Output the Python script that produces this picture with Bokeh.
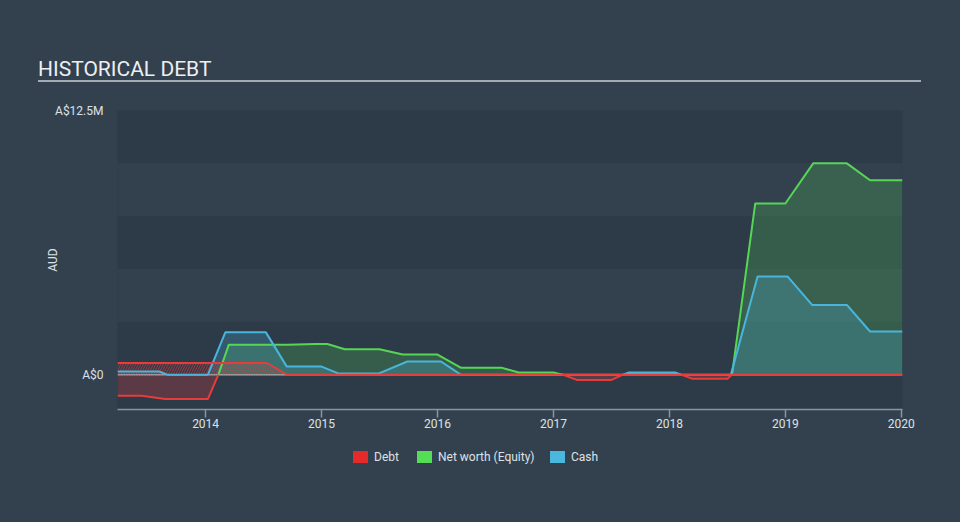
import numpy as np
from bokeh.plotting import figure
from bokeh.layouts import column
from bokeh.models import Range1d, FixedTicker, BoxAnnotation, Span, Div
from bokeh.embed import file_html
from bokeh.resources import INLINE

# ---- data (A$ millions, decimal years) ----
equity_years = [2013.24, 2013.45, 2013.65, 2014.02, 2014.11, 2014.2, 2014.7, 2014.95,
                2015.05, 2015.2, 2015.5, 2015.7, 2016.0, 2016.2, 2016.55, 2016.7,
                2017.0, 2017.08, 2017.2, 2017.5, 2017.6, 2017.65, 2018.05, 2018.1,
                2018.2, 2018.5, 2018.54, 2018.74, 2019.0, 2019.24, 2019.53, 2019.73, 2020.01]
equity_m = [-1.0, -1.0, -1.15, -1.15, 0.0, 1.42, 1.42, 1.45,
            1.45, 1.2, 1.2, 0.95, 0.95, 0.33, 0.33, 0.1,
            0.1, 0.0, -0.25, -0.25, 0.0, 0.05, 0.05, 0.0,
            -0.2, -0.2, 0.0, 8.1, 8.1, 10.0, 10.0, 9.2, 9.2]

cash_years = [2013.24, 2013.6, 2013.67, 2014.02, 2014.17, 2014.52, 2014.7, 2015.0,
              2015.15, 2015.49, 2015.74, 2016.03, 2016.2, 2017.6, 2017.65, 2018.05,
              2018.1, 2018.53, 2018.76, 2019.02, 2019.23, 2019.53, 2019.73, 2020.01]
cash_m = [0.15, 0.15, 0.0, 0.0, 2.0, 2.0, 0.38, 0.38,
          0.05, 0.05, 0.62, 0.62, 0.0, 0.0, 0.1, 0.1,
          0.0, 0.0, 4.64, 4.64, 3.3, 3.3, 2.04, 2.04]

debt_years = [2013.24, 2014.53, 2014.7, 2020.01]
debt_m = [0.55, 0.55, 0.0, 0.0]

x_ticks = [2014, 2015, 2016, 2017, 2018, 2019, 2020]
x_tick_labels = ["2014", "2015", "2016", "2017", "2018", "2019", "2020"]
y_ticks = [0, 12.5]
y_tick_labels = ["A$0", "A$12.5M"]

series_names = ["Debt", "Net worth (Equity)", "Cash"]
series_swatch = ["#e52a2a", "#55de55", "#4ab7dc"]

# ---- styling ----
BG = "#33414f"
BAND_DARK = "#2d3a48"
RED = "#e63d3b"
GREEN = "#55d655"
BLUE = "#4ab5db"
TXT = "#dde1e6"
FONT = "Roboto"
HEAD_H = 86
FIG_BOTTOM = 440

header = Div(
    text=('<div style="margin-left:38px;width:883px;height:%dpx;box-sizing:border-box;'
          'padding-top:57px;border-bottom:2px solid #a3abb5;font-family:Roboto;'
          'font-size:21px;line-height:24px;color:#eceff2;">HISTORICAL DEBT</div>') % (HEAD_H - 4),
    width=960, height=HEAD_H, margin=(0, 0, 0, 0),
    styles={"background-color": BG})

p = figure(width=960, height=FIG_BOTTOM - HEAD_H, output_backend="svg", toolbar_location=None,
           x_range=Range1d(2013.24, 2020.01), y_range=Range1d(-1.65, 12.5),
           min_border_left=117, min_border_right=58, min_border_top=110 - HEAD_H,
           min_border_bottom=FIG_BOTTOM - 409, margin=(0, 0, 0, 0))
p.background_fill_color = BAND_DARK
p.border_fill_color = BG
p.outline_line_color = None
p.grid.visible = False

# lighter stripes
for lo, hi in [(2.5, 5.0), (7.5, 10.0)]:
    p.add_layout(BoxAnnotation(bottom=lo, top=hi, fill_color=BG, fill_alpha=1.0,
                               line_alpha=0, level="underlay"))

p.add_layout(Span(location=0, dimension="width", line_color="#d8dde2",
                  line_alpha=0.7, line_width=1.5, level="underlay"))

eq = np.array(equity_m)
eq_pos = np.maximum(eq, 0)
eq_neg = np.minimum(eq, 0)
eq_pos_line = np.where(eq >= 0, eq, np.nan)
eq_neg_line = np.where(eq <= 0, eq, np.nan)

# areas
p.varea(x=equity_years, y1=0, y2=eq_pos, fill_color=GREEN, fill_alpha=0.22)
p.varea(x=equity_years, y1=eq_neg, y2=0, fill_color=RED, fill_alpha=0.25)
p.varea(x=cash_years, y1=0, y2=cash_m, fill_color=BLUE, fill_alpha=0.25)
p.varea(x=debt_years, y1=0, y2=debt_m, fill_color=RED, fill_alpha=0.04,
        hatch_pattern="/", hatch_color=RED, hatch_alpha=0.6, hatch_scale=5,
        hatch_weight=1)

# lines
p.line(x=equity_years, y=eq_pos_line, line_color=GREEN, line_width=2)
p.line(x=cash_years, y=cash_m, line_color=BLUE, line_width=2)
p.line(x=debt_years, y=debt_m, line_color=RED, line_width=2)
p.line(x=equity_years, y=eq_neg_line, line_color=RED, line_width=2)

# axes
xa = p.xaxis[0]
xa.ticker = FixedTicker(ticks=x_ticks)
xa.major_label_overrides = dict(zip(x_ticks, x_tick_labels))
xa.axis_line_color = "#8995a3"
xa.axis_line_width = 1.5
xa.major_tick_line_color = "#8995a3"
xa.major_tick_line_width = 1.5
xa.major_tick_out = 8
xa.major_tick_in = 0
xa.minor_tick_line_color = None
xa.major_label_standoff = 1
xa.major_label_text_color = TXT
xa.major_label_text_font = FONT
xa.major_label_text_font_size = "12px"

ya = p.yaxis[0]
ya.ticker = FixedTicker(ticks=y_ticks)
ya.major_label_overrides = dict(zip(y_ticks, y_tick_labels))
ya.axis_line_color = None
ya.major_tick_line_color = None
ya.major_tick_out = 0
ya.major_tick_in = 0
ya.minor_tick_line_color = None
ya.major_label_standoff = 14
ya.major_label_text_color = TXT
ya.major_label_text_font = FONT
ya.major_label_text_font_size = "12px"
ya.axis_label = "AUD"
ya.axis_label_standoff = -8
ya.axis_label_text_color = TXT
ya.axis_label_text_font = FONT
ya.axis_label_text_font_size = "12px"
ya.axis_label_text_font_style = "normal"

# legend (HTML footer)
lefts = [353, 417, 550]
parts = []
for name, col, lx in zip(series_names, series_swatch, lefts):
    parts.append('<span style="position:absolute;left:%dpx;top:11px;width:15px;height:12px;'
                 'background:%s"></span>' % (lx, col))
    parts.append('<span style="position:absolute;left:%dpx;top:10px;line-height:14px;'
                 'white-space:nowrap">%s</span>' % (lx + 21, name))
footer = Div(
    text=('<div style="position:relative;width:960px;height:%dpx;font-family:Roboto;'
          'font-size:12px;color:%s">%s</div>') % (522 - FIG_BOTTOM, TXT, "".join(parts)),
    width=960, height=522 - FIG_BOTTOM, margin=(0, 0, 0, 0),
    styles={"background-color": BG})

layout = column(header, p, footer, spacing=0, margin=(0, 0, 0, 0),
                styles={"background-color": BG})
open("out.html", "w").write(file_html(layout, INLINE))
